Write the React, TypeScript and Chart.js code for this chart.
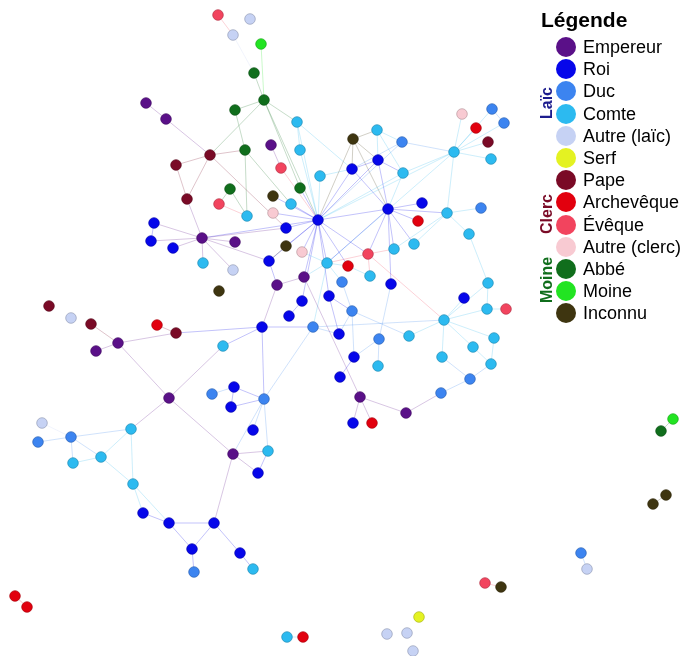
import React, { useEffect, useRef } from "react";
import { Chart, registerables } from "chart.js";

Chart.register(...registerables);

const categories = [
  "Empereur", "Roi", "Duc", "Comte", "Autre (laïc)", "Serf",
  "Pape", "Archevêque", "Évêque", "Autre (clerc)", "Abbé", "Moine", "Inconnu",
];
const categoryColors = [
  "#5a1088", "#0606ea", "#3c84f0", "#2cbaf0", "#c6d2f4", "#e4f222",
  "#7a0a26", "#e2000e", "#f2445e", "#f8cad2", "#106e1c", "#22e422", "#3e3510",
];
const groupLabels = ["Laïc", "Clerc", "Moine"];
const groupColors = ["#1d1d8e", "#7a0a26", "#106e1c"];
const groupFirst = [0, 6, 10];
const groupLast = [5, 9, 11];

// category index per node: 0 E,1 R,2 D,3 C,4 AL,5 S,6 P,7 A,8 V,9 AC,10 B,11 M,12 I
const nodeX = [
  218, 250, 233, 261, 254, 264, 235, 146, 166, 297, 245, 271, 300, 210, 176, 281, 320, 353, 377, 402,
  378, 352, 403, 462, 492, 504, 476, 488, 454, 491, 388, 422, 418, 447, 481, 469, 318, 394, 414, 368,
  348, 327, 302, 230, 300, 273, 219, 291, 273, 247, 286, 202, 235, 286, 269, 203, 233, 187, 154, 151,
  173, 304, 277, 219, 302, 289, 262, 313, 370, 342, 391, 329, 352, 339, 379, 409, 354, 378, 340, 360,
  406, 353, 372, 441, 470, 442, 444, 464, 488, 487, 506, 494, 473, 491, 49, 71, 91, 157, 176, 118,
  96, 169, 223, 212, 234, 231, 264, 253, 233, 268, 258, 42, 71, 38, 131, 101, 73, 133, 143, 169,
  214, 192, 240, 194, 253, 15, 27, 581, 587, 485, 501, 419, 287, 303, 387, 407, 413, 661, 673, 653,
  666,
];
const nodeY = [
  15, 19, 35, 44, 73, 100, 110, 103, 119, 122, 150, 145, 150, 155, 165, 168, 176, 139, 130, 142,
  160, 169, 173, 114, 109, 123, 128, 142, 152, 159, 209, 203, 221, 213, 208, 234, 220, 249, 244, 254,
  266, 263, 252, 189, 188, 196, 204, 204, 213, 216, 228, 238, 242, 246, 261, 263, 270, 199, 223, 241,
  248, 277, 285, 291, 301, 316, 327, 327, 276, 282, 284, 296, 311, 334, 339, 336, 357, 366, 377, 397,
  413, 423, 423, 393, 379, 357, 320, 298, 283, 309, 309, 338, 347, 364, 306, 318, 324, 325, 333, 343,
  351, 398, 346, 394, 387, 407, 399, 430, 454, 451, 473, 423, 437, 442, 429, 457, 463, 484, 513, 523,
  523, 549, 553, 572, 569, 596, 607, 553, 569, 583, 587, 617, 637, 637, 634, 633, 651, 431, 419, 504,
  495,
];
const nodeCategory = [
  8, 4, 4, 11, 10, 10, 10, 0, 0, 3, 10, 0, 3, 6, 6, 8, 3, 12, 3, 2,
  1, 1, 3, 9, 2, 2, 7, 6, 3, 3, 1, 1, 7, 3, 2, 3, 1, 3, 3, 8,
  7, 3, 9, 10, 10, 12, 8, 3, 9, 3, 1, 0, 0, 12, 1, 3, 4, 6, 1, 1,
  1, 0, 0, 12, 1, 1, 1, 2, 3, 2, 1, 1, 2, 1, 2, 3, 1, 3, 1, 0,
  0, 1, 7, 2, 2, 3, 3, 1, 3, 3, 8, 3, 3, 3, 6, 4, 6, 7, 6, 0,
  0, 0, 3, 2, 1, 1, 2, 1, 0, 3, 1, 4, 2, 2, 3, 3, 3, 3, 1, 1,
  1, 1, 1, 2, 3, 7, 7, 2, 4, 8, 12, 5, 3, 7, 4, 4, 4, 10, 11, 12,
  12,
];

const edgeFrom = [
  0, 2, 4, 3, 5, 5, 5, 5, 5, 6, 7, 8, 13, 13, 13, 14, 13, 10, 10, 11, 15, 9, 9, 9, 12, 16, 16,
  17, 17, 17, 17, 17, 18, 18, 18, 19, 19, 19, 20, 20, 20, 20, 21, 21, 22, 22, 22,
  28, 28, 28, 28, 28, 28, 28, 28, 28, 24,
  30, 30, 30, 30, 30, 30, 30, 30, 33, 33, 33, 33, 35,
  36, 36, 36, 36, 36, 36, 36, 36, 36, 36, 36, 36, 36, 36,
  39, 39, 39, 39, 41, 41, 41, 41, 41, 43, 46, 43,
  51, 51, 51, 51, 51, 51, 51, 51, 51, 58, 53, 54, 61, 64, 62,
  66, 66, 66, 66, 67, 67, 67,
  69, 71, 71, 72, 72, 72, 73, 74, 74, 74, 76, 61, 79, 79, 79, 80, 83, 84, 84, 85, 86, 86, 86, 86, 86, 86, 89, 88, 91, 92, 70, 68,
  96, 100, 99, 98, 99, 101, 101, 101, 103, 104, 104, 105, 106, 106, 106, 108, 108, 110, 108,
  111, 113, 112, 112, 112, 115, 115, 114, 115, 117, 117, 118, 119, 119, 120, 121, 120, 122,
  125, 127, 129, 132, 137, 139,
];
const edgeTo = [
  2, 4, 5, 5, 6, 9, 13, 36, 44, 10, 8, 13, 10, 14, 57, 57, 50, 47, 49, 15, 36, 12, 36, 21, 36, 36, 21,
  36, 21, 20, 18, 30, 19, 20, 22, 21, 28, 36, 36, 22, 30, 21, 36, 30, 30, 36, 28,
  23, 24, 25, 26, 27, 29, 33, 41, 36, 25,
  31, 32, 33, 37, 38, 36, 41, 39, 34, 35, 37, 38, 88,
  41, 42, 44, 45, 47, 48, 50, 53, 39, 40, 61, 64, 54, 51,
  41, 37, 86, 68, 42, 40, 61, 67, 69, 46, 49, 49,
  57, 58, 59, 60, 55, 52, 56, 54, 50, 59, 54, 62, 62, 65, 66,
  67, 106, 102, 98, 106, 86, 73,
  72, 72, 36, 73, 75, 76, 71, 70, 76, 77, 78, 79, 81, 82, 80, 83, 84, 85, 93, 86, 87, 88, 89, 91, 92, 75, 90, 89, 93, 93, 30, 40,
  99, 99, 98, 97, 101, 102, 108, 114, 104, 105, 106, 106, 108, 109, 107, 109, 110, 109, 120,
  112, 112, 114, 116, 115, 116, 114, 117, 117, 118, 119, 119, 120, 121, 121, 123, 122, 124,
  126, 128, 130, 133, 138, 140,
];

function rgba(hex: string, a: number): string {
  const n = parseInt(hex.slice(1), 16);
  return `rgba(${(n >> 16) & 255},${(n >> 8) & 255},${n & 255},${a})`;
}
function darken(hex: string, f: number): string {
  const n = parseInt(hex.slice(1), 16);
  const r = Math.round(((n >> 16) & 255) * f);
  const g = Math.round(((n >> 8) & 255) * f);
  const b = Math.round((n & 255) * f);
  return `rgb(${r},${g},${b})`;
}

const edgePlugin = {
  id: "networkEdges",
  beforeDatasetsDraw(chart: any) {
    const { ctx, scales } = chart;
    const xs = scales.x;
    const ys = scales.y;
    ctx.save();
    ctx.lineWidth = 0.8;
    for (let i = 0; i < edgeFrom.length; i++) {
      const a = edgeFrom[i];
      const b = edgeTo[i];
      const c = categoryColors[nodeCategory[a]];
      ctx.strokeStyle = rgba(c, 0.3);
      ctx.beginPath();
      ctx.moveTo(xs.getPixelForValue(nodeX[a]), ys.getPixelForValue(nodeY[a]));
      ctx.lineTo(xs.getPixelForValue(nodeX[b]), ys.getPixelForValue(nodeY[b]));
      ctx.stroke();
    }
    ctx.restore();
  },
};

const FONT = "'Liberation Sans', Arial, sans-serif";

export default function App() {
  const ref = useRef<HTMLCanvasElement | null>(null);

  useEffect(() => {
    if (!ref.current) return;
    const datasets = categories.map((name, ci) => {
      const data: { x: number; y: number }[] = [];
      for (let i = 0; i < nodeX.length; i++) {
        if (nodeCategory[i] === ci) data.push({ x: nodeX[i], y: nodeY[i] });
      }
      return {
        label: name,
        data,
        pointRadius: 5.3,
        pointHoverRadius: 5.3,
        pointBackgroundColor: categoryColors[ci],
        pointBorderColor: darken(categoryColors[ci], 0.75),
        pointBorderWidth: 0.7,
        showLine: false,
        clip: false,
      };
    });
    const chart = new Chart(ref.current, {
      type: "scatter",
      data: { datasets },
      options: {
        animation: false,
        responsive: false,
        maintainAspectRatio: false,
        layout: { padding: 0, autoPadding: false },
        plugins: { legend: { display: false }, tooltip: { enabled: false } },
        scales: {
          x: { type: "linear", min: 0, max: 690, display: false },
          y: { type: "linear", min: 0, max: 656, reverse: true, display: false },
        },
      },
      plugins: [edgePlugin],
    } as any);
    return () => chart.destroy();
  }, []);

  const rowY = (i: number) => 47 + i * 22.2;

  return (
    <div style={{ position: "absolute", left: 0, top: 0, width: 690, height: 656, background: "#fff", overflow: "hidden" }}>
      <canvas ref={ref} width={690} height={656} style={{ position: "absolute", left: 0, top: 0, width: 690, height: 656 }} />
      <div style={{ position: "absolute", left: 541, top: 7, fontFamily: FONT, fontWeight: "bold", fontSize: 21, lineHeight: "25px", color: "#000" }}>
        Légende
      </div>
      {categories.map((name, i) => (
        <React.Fragment key={name}>
          <div
            style={{
              position: "absolute",
              left: 566 - 10,
              top: rowY(i) - 10,
              width: 20,
              height: 20,
              borderRadius: "50%",
              background: categoryColors[i],
            }}
          />
          <div
            style={{
              position: "absolute",
              left: 583,
              top: rowY(i) - 11,
              fontFamily: FONT,
              fontSize: 18,
              lineHeight: "22px",
              color: "#000",
              whiteSpace: "nowrap",
            }}
          >
            {name}
          </div>
        </React.Fragment>
      ))}
      {groupLabels.map((g, gi) => (
        <div
          key={g}
          style={{
            position: "absolute",
            left: 547,
            top: (rowY(groupFirst[gi]) + rowY(groupLast[gi])) / 2,
            transform: "translate(-50%, -50%) rotate(-90deg)",
            fontFamily: FONT,
            fontWeight: "bold",
            fontSize: 16,
            lineHeight: "18px",
            color: groupColors[gi],
            whiteSpace: "nowrap",
          }}
        >
          {g}
        </div>
      ))}
    </div>
  );
}
